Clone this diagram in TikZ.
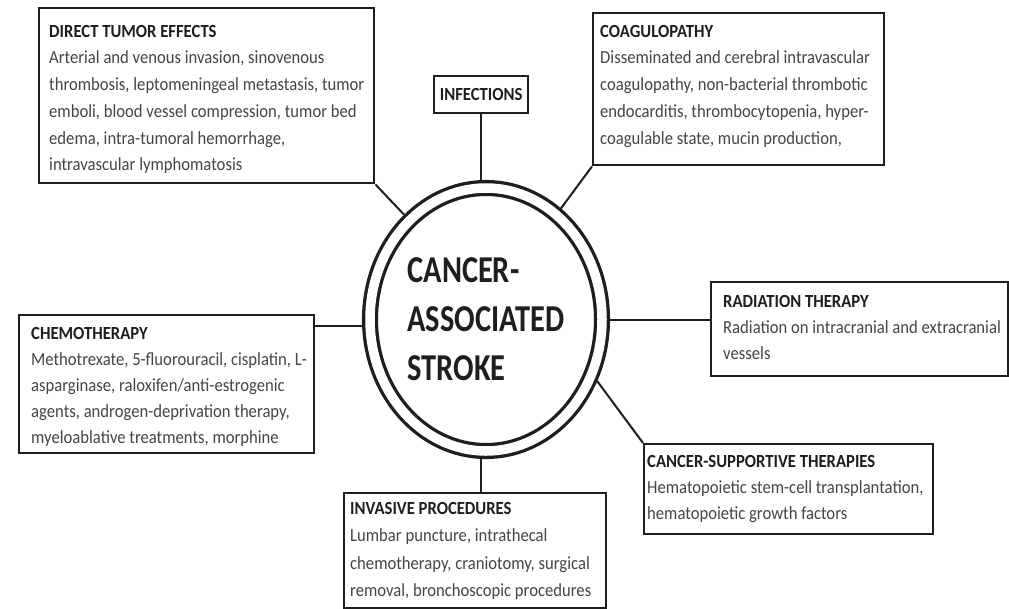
\documentclass[tikz,border=0pt]{standalone}
\usepackage{fontspec}
\setmainfont{Carlito}[FakeStretch=0.9]
\newfontfamily\bigfont{Carlito}[FakeStretch=0.8]
\usetikzlibrary{shapes.geometric}
\definecolor{ink}{HTML}{1E1E1E}
\definecolor{bodytxt}{HTML}{454545}
\newcommand{\mybox}[5]{\parbox[c][#2pt][t]{#1pt}{\fontsize{18.5}{#4pt}\selectfont\rule{0pt}{#3pt}#5}}
\newcommand{\ttlln}[1]{\mbox{\textbf{\color{ink}#1}}}
\newcommand{\bodyln}[1]{\mbox{\color{bodytxt}#1}}
\tikzset{
  boxst/.style={draw=ink, line width=2.4pt, inner ysep=0pt, anchor=north west, fill=white},
  conn/.style={draw=ink, line width=2pt},
}
\begin{document}
\begin{tikzpicture}[x=1pt, y={(0pt,-1pt)}]
\fill[white] (0,0) rectangle (1009,608);
\useasboundingbox (0,0) rectangle (1009,608);

\node[ellipse, draw=ink, line width=3.3pt, double=white, double distance=9.5pt,
      minimum width=232pt, minimum height=263pt, inner sep=0pt, outer sep=8pt,
      align=left, text=ink, font=\bigfont\bfseries\fontsize{38}{49}\selectfont] (circ) at (486,319.5)
  {CANCER-\\ASSOCIATED\\STROKE};

\node[boxst, inner xsep=10pt] (dte) at (38,7) {\mybox{315}{175}{29}{26.7}{%
\ttlln{DIRECT TUMOR EFFECTS}\\
\bodyln{Arterial and venous invasion, sinovenous}\\
\bodyln{thrombosis, leptomeningeal metastasis, tumor}\\
\bodyln{emboli, blood vessel compression, tumor bed}\\
\bodyln{edema, intra-tumoral hemorrhage,}\\
\bodyln{intravascular lymphomatosis}}};

\node[boxst, inner xsep=7pt] (coag) at (592,12) {\mybox{277}{152}{24}{26.7}{%
\ttlln{COAGULOPATHY}\\
\bodyln{Disseminated and cerebral intravascular}\\
\bodyln{coagulopathy, non-bacterial thrombotic}\\
\bodyln{endocarditis, thrombocytopenia, hyper-}\\
\bodyln{coagulable state, mucin production,}}};

\node[boxst, inner sep=0pt, minimum width=94pt, minimum height=37pt,
      font=\fontsize{18.5}{20}\selectfont] (inf) at (433,75) {\ttlln{INFECTIONS}};

\node[boxst, inner xsep=12pt] (chemo) at (18,314) {\mybox{271}{138}{24}{26}{%
\ttlln{CHEMOTHERAPY}\\
\bodyln{Methotrexate, 5-fluorouracil, cisplatin, L-}\\
\bodyln{asparginase, raloxifen/anti-estrogenic}\\
\bodyln{agents, androgen-deprivation therapy,}\\
\bodyln{myeloablative treatments, morphine}}};

\node[boxst, inner xsep=12pt] (rad) at (710,281) {\mybox{273}{94}{25}{26}{%
\ttlln{RADIATION THERAPY}\\
\bodyln{Radiation on intracranial and extracranial}\\
\bodyln{vessels}}};

\node[boxst, inner xsep=3pt] (sup) at (643,443) {\mybox{283}{90}{23}{26}{%
\ttlln{CANCER-SUPPORTIVE THERAPIES}\\
\bodyln{Hematopoietic stem-cell transplantation,}\\
\bodyln{hematopoietic growth factors}}};

\node[boxst, inner xsep=6pt] (inv) at (343,492) {\mybox{250}{115}{21}{27.5}{%
\ttlln{INVASIVE PROCEDURES}\\
\bodyln{Lumbar puncture, intrathecal}\\
\bodyln{chemotherapy, craniotomy, surgical}\\
\bodyln{removal, bronchoscopic procedures}}};

\draw[conn] (dte.south east) -- (circ.128.6);
\draw[conn] (coag.south west) -- (circ.56.4);
\draw[conn] (inf.south) -- (inf.south |- circ.north);
\draw[conn] (circ.183.5) -- (circ.183.5 -| chemo.east);
\draw[conn] (circ.east) -- (circ.east -| rad.west);
\draw[conn] (sup.north west) -- (circ.-29.3);
\draw[conn] (circ.-92) -- (circ.-92 |- inv.north);
\end{tikzpicture}
\end{document}
